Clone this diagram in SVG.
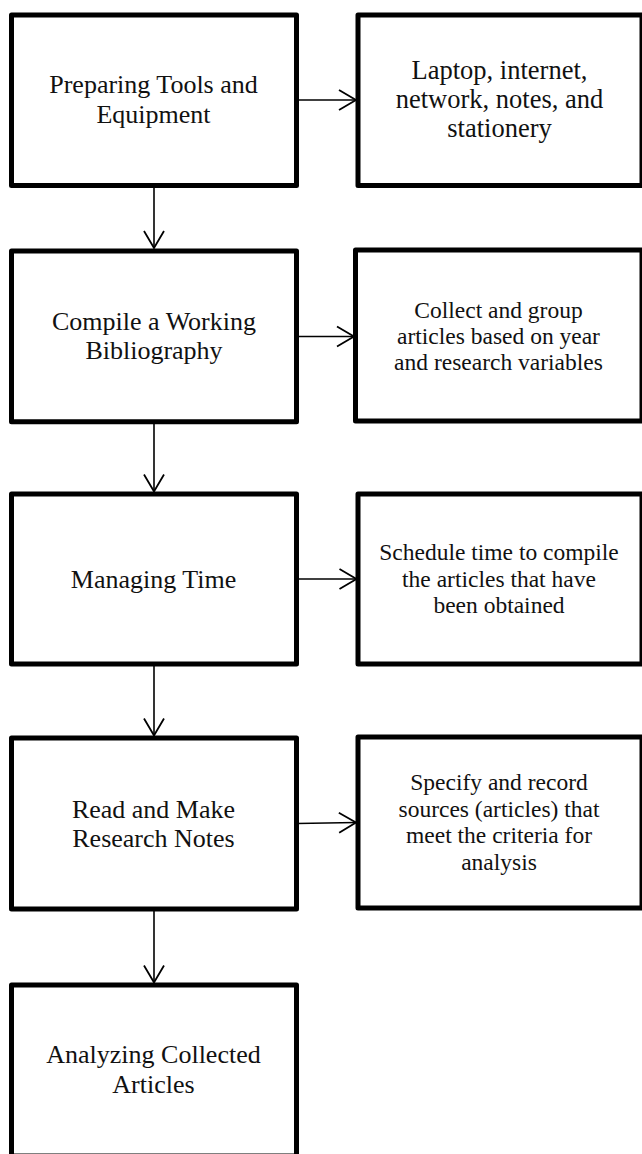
<svg xmlns="http://www.w3.org/2000/svg" width="642" height="1154" viewBox="0 0 642 1154">
<style>
.box{fill:#fff;stroke:#000;stroke-width:5;stroke-linejoin:round}
.t{font-family:"Liberation Serif","Times New Roman",serif;font-size:26px;fill:#111;text-anchor:middle}
.ts{font-family:"Liberation Serif","Times New Roman",serif;font-size:23.5px;fill:#111;text-anchor:middle}
.ln{fill:none;stroke:#000;stroke-width:1.6}
</style>
<defs>
<marker id="arr" markerUnits="userSpaceOnUse" markerWidth="24" markerHeight="26" viewBox="0 0 24 26" refX="19" refY="13" orient="auto">
<path d="M2,3 L19,13 L2,23" fill="none" stroke="#000" stroke-width="1.8"/>
</marker>
</defs>
<rect width="642" height="1154" fill="#fff"/>
<g id="n1">
<rect class="box" x="11.5" y="15" width="285" height="170.5"/>
<text class="t" x="153.5" y="93">Preparing Tools and</text>
<text class="t" x="153.5" y="122.5">Equipment</text>
</g>
<g id="n1r">
<rect class="box" x="358" y="15" width="284" height="170.5"/>
<text class="t" style="font-size:26.5px" x="499.5" y="79.3">Laptop, internet,</text>
<text class="t" style="font-size:26.5px" x="499.5" y="108.3">network, notes, and</text>
<text class="t" style="font-size:26.5px" x="499.5" y="136.7">stationery</text>
</g>
<g id="n2">
<rect class="box" x="11.5" y="251" width="285" height="170.7"/>
<text class="t" x="154" y="330">Compile a Working</text>
<text class="t" x="154" y="358.5">Bibliography</text>
</g>
<g id="n2r">
<rect class="box" x="355.5" y="250" width="286.5" height="171"/>
<text class="ts" x="498.5" y="318">Collect and group</text>
<text class="ts" x="498.5" y="344">articles based on year</text>
<text class="ts" x="498.5" y="370">and research variables</text>
</g>
<g id="n3">
<rect class="box" x="11.5" y="494" width="285" height="170"/>
<text class="t" x="153.5" y="588">Managing Time</text>
</g>
<g id="n3r">
<rect class="box" x="358" y="494" width="284" height="170"/>
<text class="ts" x="499" y="560">Schedule time to compile</text>
<text class="ts" x="499" y="586.7">the articles that have</text>
<text class="ts" x="499" y="613.3">been obtained</text>
</g>
<g id="n4">
<rect class="box" x="11.5" y="738" width="285" height="171"/>
<text class="t" x="153.5" y="818.3">Read and Make</text>
<text class="t" x="153.5" y="846.7">Research Notes</text>
</g>
<g id="n4r">
<rect class="box" x="358" y="737" width="284" height="171"/>
<text class="ts" x="499" y="790">Specify and record</text>
<text class="ts" x="499" y="816.7">sources (articles) that</text>
<text class="ts" x="499" y="843.3">meet the criteria for</text>
<text class="ts" x="499" y="870">analysis</text>
</g>
<g id="n5">
<rect class="box" x="11.5" y="985" width="285" height="171"/>
<text class="t" x="153.5" y="1063">Analyzing Collected</text>
<text class="t" x="153.5" y="1092.7">Articles</text>
</g>
<g id="connectors">
<line class="ln" x1="154" y1="186" x2="154" y2="248" marker-end="url(#arr)"/>
<line class="ln" x1="154" y1="422" x2="154" y2="491.5" marker-end="url(#arr)"/>
<line class="ln" x1="154" y1="664.5" x2="154" y2="735.5" marker-end="url(#arr)"/>
<line class="ln" x1="154" y1="909.5" x2="154" y2="982.5" marker-end="url(#arr)"/>
<line class="ln" x1="297" y1="100" x2="356" y2="100" marker-end="url(#arr)"/>
<line class="ln" x1="297" y1="336.5" x2="354" y2="336.5" marker-end="url(#arr)"/>
<line class="ln" x1="297" y1="579" x2="356.5" y2="579" marker-end="url(#arr)"/>
<line class="ln" x1="297" y1="823.5" x2="356" y2="822.5" marker-end="url(#arr)"/>
</g>
</svg>
